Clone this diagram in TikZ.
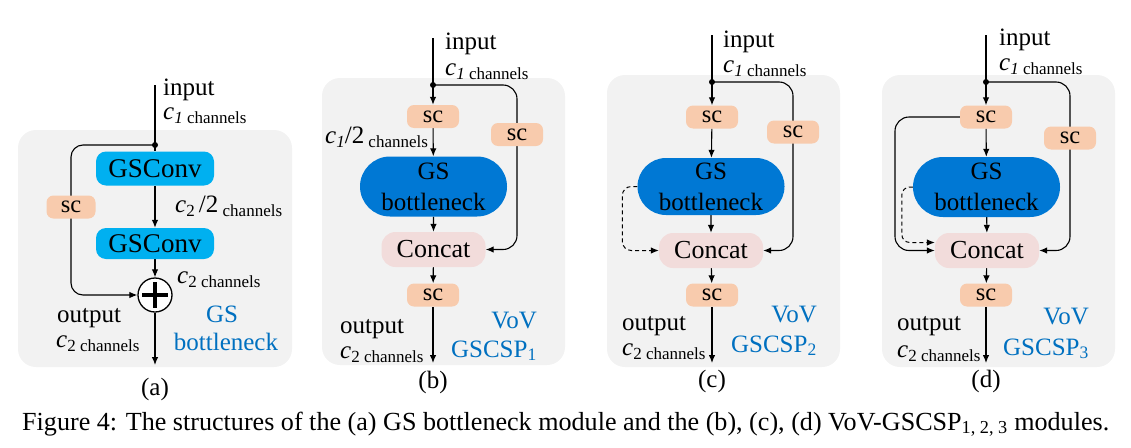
\documentclass[tikz,border=0pt]{standalone}
\usepackage{fontspec}
\setmainfont{Liberation Serif}
\usetikzlibrary{arrows.meta,shapes.misc,calc}
\definecolor{panelgray}{HTML}{F2F2F2}
\definecolor{gsccyan}{HTML}{00B0F0}
\definecolor{gsbblue}{HTML}{0078D4}
\definecolor{scpeach}{HTML}{F8CBAD}
\definecolor{catpink}{HTML}{F2DCDB}
\definecolor{lblblue}{HTML}{0070C0}
\newcommand{\fsz}[1]{\fontsize{#1}{#1}\selectfont}
\newcommand{\cch}[1]{{\fsz{25}\itshape c}\raisebox{-4pt}{\fsz{17}#1\ channels}}
\pgfdeclarelayer{back}
\pgfdeclarelayer{mid}
\pgfsetlayers{back,mid,main}
\tikzset{
  panel/.style={fill=panelgray, rounded corners=18pt},
  gsconvbox/.style={fill=gsccyan, rounded corners=10pt, minimum width=118pt, minimum height=34pt, inner sep=0pt, font=\fsz{27}},
  scbox/.style={fill=scpeach, rounded corners=7pt, minimum width=52pt, minimum height=23pt, inner sep=0pt, font=\fsz{24.5}},
  gsbbox/.style={fill=gsbblue, rounded rectangle, minimum width=147pt, minimum height=60pt, inner sep=0pt, align=center, font=\fontsize{25}{31}\selectfont},
  catbox/.style={fill=catpink, rounded corners=14pt, minimum width=104pt, minimum height=35pt, inner sep=0pt, font=\fsz{26}},
  lbl/.style={inner sep=0pt, font=\fsz{25}},
  bluelbl/.style={inner sep=0pt, font=\fsz{25}, text=lblblue, anchor=base east},
  junction/.style={circle, fill=black, inner sep=0pt, minimum size=6pt},
  conn/.style={line width=1.1pt},
  arr/.style={line width=1.1pt, -{Latex[length=8pt,width=6.5pt]}},
  dasharr/.style={line width=1pt, dash pattern=on 4pt off 3pt, -{Latex[length=8pt,width=6.5pt]}},
}
\begin{document}
\begin{tikzpicture}[x=1pt,y=-1pt]
\useasboundingbox (0,0) rectangle (1131,447);
\begin{pgfonlayer}{back}
\fill[panel] (18,130) rectangle (292,367);
\fill[panel] (322,78) rectangle (565,365);
\fill[panel] (607,75) rectangle (840,367);
\fill[panel] (882,75) rectangle (1115,367);
\end{pgfonlayer}

% ---------------- (a)
\coordinate (topa) at (155,85);
\node[junction] (dota) at (155,145) {};
\node[gsconvbox] (gsc1) at (155,168.5) {GSConv};
\node[gsconvbox, minimum height=31pt] (gsc2) at (155,243.5) {GSConv};
\node[circle, draw, fill=white, line width=1.3pt, minimum size=34pt, inner sep=0pt] (plus) at (155,295) {};
\draw[line width=3.5pt] ($(plus.center)+(-13,0)$) -- ($(plus.center)+(13,0)$);
\draw[line width=3.5pt] ($(plus.center)+(0,-13)$) -- ($(plus.center)+(0,13)$);
\node[scbox, minimum width=49pt] (sca) at (71,207) {sc};
\coordinate (outa) at (155,365);
\node[lbl, anchor=base west] (ina) at (163,95) {input};
\node[lbl, anchor=base west] (c1a) at (163,119) {\cch{{\itshape 1}}};
\node[lbl, anchor=base west] (c22a) at (175,212) {{\itshape c}\raisebox{-4pt}{\fsz{17}2}\,/2\raisebox{-4pt}{\fsz{17}\ channels}};
\node[lbl, anchor=base west] (c2a) at (177,283) {\cch{2}};
\node[lbl, anchor=base west] (outla) at (57,322) {output};
\node[lbl, anchor=base west] (c2oa) at (56,347) {\cch{2}};
\node[lbl, text=lblblue, anchor=base] (gsa) at (222,322) {GS};
\node[lbl, text=lblblue, anchor=base] (bna) at (226,350) {bottleneck};
\node[lbl, anchor=base] (capa) at (155,395) {(a)};
\begin{pgfonlayer}{mid}
\draw[conn] (topa) -- (dota.center) -- (gsc1);
\draw[arr] (gsc1) -- (gsc2);
\draw[arr] (gsc2) -- (plus);
\draw[arr, rounded corners=12pt] (dota.center) -| (sca.center) |- (plus.west);
\draw[arr] (plus) -- (outa);
\end{pgfonlayer}

% ---------------- (b)
\coordinate (topb) at (433,38);
\node[junction] (dotb) at (433,85) {};
\node[scbox] (scb1) at (433,116.5) {sc};
\node[scbox] (scbr) at (517,134.5) {sc};
\node[gsbbox] (gsbb) at (433.5,186.5) {GS\\bottleneck};
\node[catbox] (catb) at (433.5,249.5) {Concat};
\node[scbox] (scb3) at (433,295) {sc};
\coordinate (outb) at (433,363);
\node[lbl, anchor=base west] (inb) at (445,49) {input};
\node[lbl, anchor=base west] (c1b) at (445,75) {\cch{{\itshape 1}}};
\node[lbl, anchor=base west] (c12b) at (325,143) {{\itshape c}\raisebox{-4pt}{\fsz{17}\itshape 1}/2\raisebox{-4pt}{\fsz{17}\ channels}};
\node[lbl, anchor=base west] (outlb) at (340,333) {output};
\node[lbl, anchor=base west] (c2ob) at (340,358) {\cch{2}};
\node[bluelbl] (vovb) at (537,328) {VoV};
\node[bluelbl] (gscb) at (537,357) {GSCSP\textsubscript{1}};
\node[lbl, anchor=base] (capb) at (433,388) {(b)};
\begin{pgfonlayer}{mid}
\draw[conn] (topb) -- (dotb.center);
\draw[arr] (dotb.center) -- (scb1);
\draw[arr] (scb1) -- (gsbb);
\draw[arr] (gsbb) -- (catb);
\draw[arr] (catb) -- (scb3);
\draw[arr] (scb3) -- (outb);
\draw[arr, rounded corners=14pt] (dotb.center) -| (scbr.center) |- (catb.east);
\end{pgfonlayer}

% ---------------- (c)
\coordinate (topc) at (712,35);
\node[junction] (dotc) at (712,82) {};
\node[scbox] (scc1) at (712,117) {sc};
\node[scbox] (sccr) at (793,132) {sc};
\node[gsbbox, minimum height=57pt] (gsbc) at (711,186.5) {GS\\bottleneck};
\node[catbox] (catc) at (711,250.5) {Concat};
\node[scbox] (scc3) at (712,295) {sc};
\coordinate (outc) at (712,363);
\node[lbl, anchor=base west] (inc) at (723,47) {input};
\node[lbl, anchor=base west] (c1c) at (723,72) {\cch{{\itshape 1}}};
\node[lbl, anchor=base west] (outlc) at (622,330) {output};
\node[lbl, anchor=base west] (c2oc) at (622,355) {\cch{2}};
\node[bluelbl] (vovc) at (817,322) {VoV};
\node[bluelbl] (gscc) at (817,352) {GSCSP\textsubscript{2}};
\node[lbl, anchor=base] (capc) at (712,387) {(c)};
\begin{pgfonlayer}{mid}
\draw[conn] (topc) -- (dotc.center);
\draw[arr] (dotc.center) -- (scc1);
\draw[arr] (scc1) -- (gsbc);
\draw[arr] (gsbc) -- (catc);
\draw[arr] (catc) -- (scc3);
\draw[arr] (scc3) -- (outc);
\draw[arr, rounded corners=14pt] (dotc.center) -| (sccr.center) |- (catc.east);
\draw[dasharr, rounded corners=9pt] (gsbc.west) -- ++(-15,0) |- (catc.west);
\end{pgfonlayer}

% ---------------- (d)
\coordinate (topd) at (986,35);
\node[junction] (dotd) at (986,82) {};
\node[scbox] (scd1) at (986,117) {sc};
\node[scbox] (scdr) at (1070,138) {sc};
\node[gsbbox] (gsbd) at (986.5,187) {GS\\bottleneck};
\node[catbox] (catd) at (987,250.5) {Concat};
\node[scbox] (scd3) at (986,295) {sc};
\coordinate (outd) at (986,363);
\coordinate (ldc) at (895,117);
\node[lbl, anchor=base west] (ind) at (999,45) {input};
\node[lbl, anchor=base west] (c1d) at (999,70) {\cch{{\itshape 1}}};
\node[lbl, anchor=base west] (outld) at (897,330) {output};
\node[lbl, anchor=base west] (c2od) at (897,357) {\cch{2}};
\node[bluelbl] (vovd) at (1089,324) {VoV};
\node[bluelbl] (gscd) at (1089,355) {GSCSP\textsubscript{3}};
\node[lbl, anchor=base] (capd) at (986,387) {(d)};
\begin{pgfonlayer}{mid}
\draw[conn] (topd) -- (dotd.center);
\draw[arr] (dotd.center) -- (scd1);
\draw[arr] (scd1) -- (gsbd);
\draw[arr] (gsbd) -- (catd);
\draw[arr] (catd) -- (scd3);
\draw[arr] (scd3) -- (outd);
\draw[arr, rounded corners=14pt] (dotd.center) -| (scdr.center) |- (catd.east);
\draw[arr, rounded corners=14pt] (scd1.west) -- (ldc) |- (catd.west);
\draw[dasharr, rounded corners=8pt] (gsbd.west) -- ++(-11,0) |- ([yshift=8pt]catd.west);
\end{pgfonlayer}

% ---------------- caption
\node[inner sep=0pt, anchor=base west, font=\fsz{26.1}] (caption) at (22,430) {Figure 4: The structures of the (a) GS bottleneck module and the (b), (c), (d) VoV-GSCSP\textsubscript{1, 2, 3} modules.};
\end{tikzpicture}
\end{document}
